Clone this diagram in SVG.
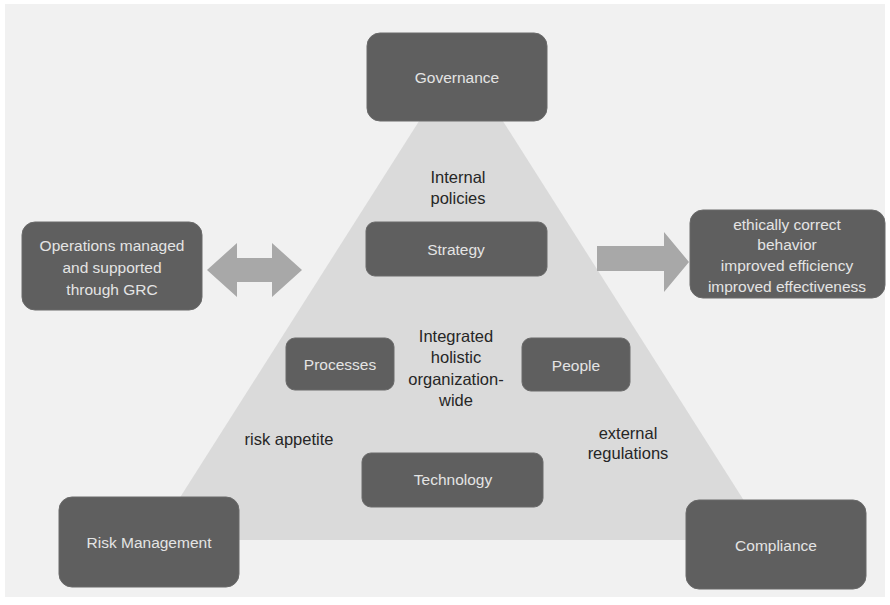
<svg xmlns="http://www.w3.org/2000/svg" width="890" height="605" viewBox="0 0 890 605">
  <style>
    .box { fill: #5f5f5f; stroke: #6a6a6a; stroke-width: 1; }
    .btxt { font-family: "Liberation Sans", "Open Sans", sans-serif; font-size: 15.5px; fill: #e4e4e4; text-anchor: middle; }
    .lbl { font-family: "Liberation Sans", "Open Sans", sans-serif; font-size: 16.5px; fill: #262626; text-anchor: middle; }
    .arrow { fill: #a8a8a8; }
  </style>

  <!-- backdrop -->
  <rect x="0" y="0" width="890" height="605" fill="#ffffff"/>
  <rect x="5" y="4" width="880" height="593" fill="#f1f1f1"/>

  <!-- central pyramid -->
  <polygon points="461,55 769,540 153,540" fill="#dadada"/>

  <!-- connectors -->
  <g id="connectors">
    <polygon class="arrow" points="207,270 237,243 237,258 272,258 272,243 302,270 272,297 272,282 237,282 237,297"/>
    <polygon class="arrow" points="597,246 664,246 664,232 689,262 664,292 664,271 597,271"/>
  </g>

  <g id="governance">
    <rect class="box" x="367" y="33" width="180" height="88" rx="13"/>
    <text class="btxt" x="457" y="83">Governance</text>
  </g>

  <g id="operations">
    <rect class="box" x="22" y="222" width="180" height="88" rx="13"/>
    <text class="btxt" x="112" y="251">Operations managed</text>
    <text class="btxt" x="112" y="273">and supported</text>
    <text class="btxt" x="112" y="295">through GRC</text>
  </g>

  <g id="outcomes">
    <rect class="box" x="690" y="210" width="195" height="88" rx="13"/>
    <text class="btxt" x="787" y="230">ethically correct</text>
    <text class="btxt" x="787" y="250">behavior</text>
    <text class="btxt" x="787" y="271">improved efficiency</text>
    <text class="btxt" x="787" y="292">improved effectiveness</text>
  </g>

  <g id="strategy">
    <rect class="box" x="366" y="222" width="181" height="54" rx="9"/>
    <text class="btxt" x="456" y="255">Strategy</text>
  </g>

  <g id="processes">
    <rect class="box" x="286" y="338" width="108" height="52" rx="9"/>
    <text class="btxt" x="340" y="370">Processes</text>
  </g>

  <g id="people">
    <rect class="box" x="522" y="338" width="108" height="53" rx="9"/>
    <text class="btxt" x="576" y="371">People</text>
  </g>

  <g id="technology">
    <rect class="box" x="362" y="453" width="181" height="54" rx="9"/>
    <text class="btxt" x="453" y="485">Technology</text>
  </g>

  <g id="risk-management">
    <rect class="box" x="59" y="497" width="180" height="90" rx="13"/>
    <text class="btxt" x="149" y="548">Risk Management</text>
  </g>

  <g id="compliance">
    <rect class="box" x="686" y="500" width="180" height="89" rx="13"/>
    <text class="btxt" x="776" y="551">Compliance</text>
  </g>

  <!-- pyramid labels -->
  <g id="labels">
    <text class="lbl" x="458" y="183">Internal</text>
    <text class="lbl" x="458" y="204">policies</text>
    <text class="lbl" x="456" y="342">Integrated</text>
    <text class="lbl" x="456" y="363">holistic</text>
    <text class="lbl" x="456" y="385">organization-</text>
    <text class="lbl" x="456" y="406">wide</text>
    <text class="lbl" x="289" y="445">risk appetite</text>
    <text class="lbl" x="628" y="439">external</text>
    <text class="lbl" x="628" y="459">regulations</text>
  </g>
</svg>
